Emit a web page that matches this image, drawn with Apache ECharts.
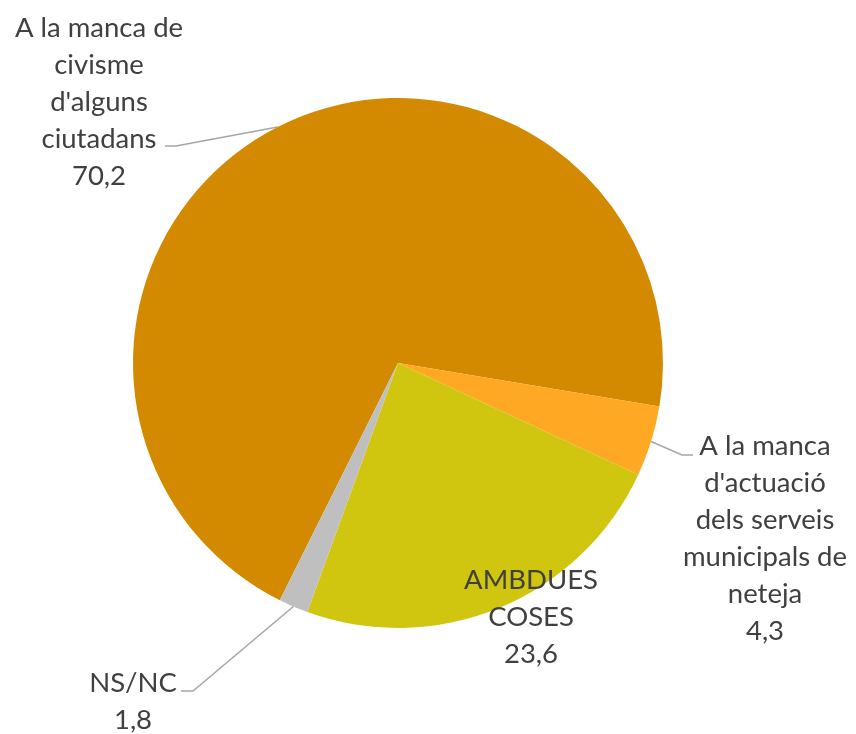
<!DOCTYPE html>
<html>
<head>
<meta charset="utf-8">
<script src="https://cdn.jsdelivr.net/npm/echarts@6/dist/echarts.min.js"></script>
<style>
  html, body { margin: 0; padding: 0; background: #ffffff; }
  #chart { width: 856px; height: 734px; }
</style>
</head>
<body>
<div id="chart"></div>
<script>
// Survey answers: who is to blame for the dirt in the streets (%)
const categories = [
  "A la manca de\ncivisme\nd'alguns\nciutadans",
  "A la manca\nd'actuació\ndels serveis\nmunicipals de\nneteja",
  "AMBDUES\nCOSES",
  "NS/NC"
];
const values = [70.2, 4.3, 23.6, 1.8];
const colors = ['#D48A00', '#FFA823', '#D0C60F', '#BFBFBF'];

// Label placement (top-centre of each text block) and leader-line bends
const labelSpots = [
  { x: 99,  y: 10,  bend: [176, 146], end: [165, 146] },
  { x: 765, y: 428, bend: [682, 455], end: [693, 455] },
  { x: 531, y: 562, bend: null, end: null },
  { x: 133, y: 665, bend: [193, 691], end: [181, 691] }
];

const fmt = v => v.toFixed(1).replace('.', ',');

const chart = echarts.init(document.getElementById('chart'), null, { renderer: 'canvas' });

chart.setOption({
  animation: false,
  backgroundColor: '#ffffff',
  series: [{
    type: 'pie',
    center: [398, 363],
    radius: 265,
    startAngle: 243.5,
    clockwise: true,
    data: categories.map((name, i) => ({
      name: name,
      value: values[i],
      itemStyle: { color: colors[i] },
      labelLine: { show: i !== 2 }
    })),
    itemStyle: { borderWidth: 0 },
    emphasis: { disabled: true },
    label: {
      show: true,
      position: 'outside',
      alignTo: 'none',
      overflow: 'none',
      formatter: p => p.name + '\n' + fmt(p.value),
      fontFamily: 'Lato, "Open Sans", sans-serif',
      fontSize: 27.5,
      lineHeight: 37,
      color: '#404040',
      align: 'center'
    },
    labelLine: {
      show: true,
      length: 20,
      length2: 10,
      lineStyle: { color: '#A6A6A6', width: 1.5 }
    },
    labelLayout: function (params) {
      const s = labelSpots[params.dataIndex];
      const out = { x: s.x, y: s.y, align: 'center', verticalAlign: 'top' };
      if (s.bend && params.labelLinePoints) {
        out.labelLinePoints = [params.labelLinePoints[0], s.bend, s.end];
      }
      return out;
    }
  }]
});
</script>
</body>
</html>
